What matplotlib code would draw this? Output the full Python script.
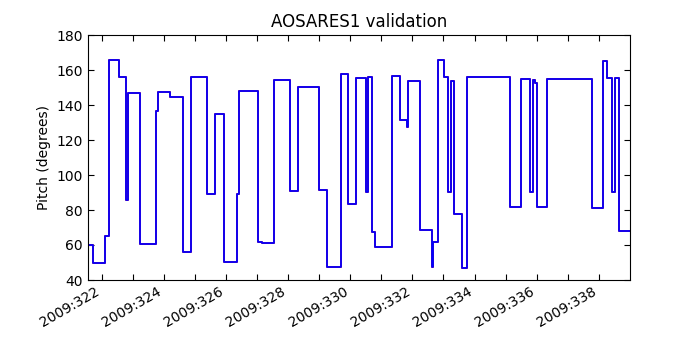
import datetime
import matplotlib
matplotlib.use("Agg")
import matplotlib.pyplot as plt
import matplotlib.dates as mdates

# day-of-year 2009 where each pitch level starts (last entry = end of data)
doy = [321.549, 321.710, 322.119, 322.225, 322.570, 322.786, 322.857, 323.230,
       323.739, 323.813, 324.212, 324.621, 324.888, 325.403, 325.661, 325.950,
       326.346, 326.427, 327.035, 327.151, 327.538, 328.066, 328.323, 328.999,
       329.257, 329.701, 329.933, 330.184, 330.522, 330.570, 330.706, 330.812,
       331.359, 331.601, 331.833, 331.868, 332.238, 332.615, 332.657, 332.818,
       333.024, 333.156, 333.236, 333.333, 333.607, 333.758, 335.136, 335.490,
       335.786, 335.876, 335.941, 336.005, 336.318, 337.766, 338.136, 338.275,
       338.433, 338.533, 338.645, 339.0]

pitch_model = [60, 50, 65.3, 165.9, 155.8, 85.9, 146.9, 60.4,
               136.6, 147.6, 144.6, 55.8, 155.8, 89.3, 134.9, 50.1,
               89.3, 148, 61.9, 60.9, 154.5, 91, 150.1, 91.4,
               47.4, 157.5, 83.6, 155.6, 90.1, 155.8, 67.2, 58.7,
               156.8, 131.6, 127.2, 153.7, 68.4, 47.4, 61.9, 165.9,
               156, 90.1, 153.7, 77.5, 47, 156, 81.9, 155,
               90.1, 154.3, 152.4, 81.7, 154.9, 81, 165.3, 155.2,
               90.1, 155.2, 68, 68]

pitch_tlm = list(pitch_model)

tick_days = list(range(322, 340, 2))
minor_days = list(range(323, 339, 2))

t0 = mdates.date2num(datetime.datetime(2009, 1, 1)) - 1
t = [t0 + d for d in doy]

fig = plt.figure(figsize=(7, 3.5), dpi=100)
ax = fig.add_axes([0.125, 0.2, 0.775, 0.7])

ax.plot(t, pitch_tlm, color="r", lw=1.3, drawstyle="steps-post")
ax.plot(t, pitch_model, color="b", lw=1.3, drawstyle="steps-post")

ax.set_xlim(t0 + 321.549, t0 + 339.0)
ax.set_ylim(40, 180)
ax.set_yticks(range(40, 181, 20))
ax.set_xticks([t0 + d for d in tick_days])
ax.set_xticks([t0 + d for d in minor_days], minor=True)
ax.xaxis.set_major_formatter(mdates.DateFormatter("%Y:%j"))

ax.tick_params(which="both", direction="in", top=True, right=True,
               length=4, width=0.8, labelsize=10)
for lbl in ax.get_xticklabels():
    lbl.set_rotation(30)
    lbl.set_ha("right")

ax.set_ylabel("Pitch (degrees)", fontsize=10)
ax.set_title("AOSARES1 validation", fontsize=12)

fig.savefig("out.png", dpi=100)
